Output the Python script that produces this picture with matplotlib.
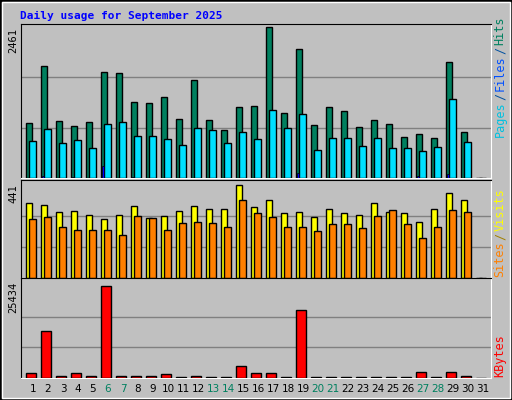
import numpy as np
import matplotlib.pyplot as plt
from matplotlib.patches import Rectangle

days = list(range(1, 32))
hits = [897, 1832, 930, 848, 913, 1734, 1718, 1242, 1225, 1324, 963, 1603, 946, 782, 1160,
        1176, 2461, 1061, 2095, 864, 1160, 1094, 831, 946, 881, 667, 717, 651, 1898, 749, 0]
files = [602, 799, 569, 618, 487, 881, 914, 684, 684, 635, 536, 815, 782, 569, 749,
         635, 1110, 815, 1045, 454, 651, 651, 520, 651, 487, 487, 438, 503, 1291, 585, 0]
pages = [5, 27, 5, 20, 5, 191, 5, 20, 5, 5, 5, 5, 5, 5, 5,
         5, 5, 5, 77, 5, 5, 5, 5, 5, 5, 5, 27, 5, 60, 5, 0]
visits = [355, 345, 312, 317, 297, 278, 297, 340, 283, 292, 317, 340, 326, 326, 441,
          336, 369, 307, 312, 288, 326, 307, 297, 355, 312, 307, 268, 326, 403, 369, 0]
sites = [278, 288, 244, 230, 230, 230, 206, 292, 283, 230, 259, 264, 259, 240, 369,
         307, 288, 244, 240, 225, 254, 254, 235, 292, 321, 254, 192, 240, 321, 312, 0]
kbytes = [1295, 12858, 650, 1295, 650, 25434, 650, 650, 650, 1017, 370, 650, 370, 370, 3423,
          1295, 1295, 370, 18685, 370, 370, 370, 370, 370, 370, 370, 1758, 370, 1572, 650, 0]
weekends = [6, 7, 13, 14, 20, 21, 27, 28]

BG = '#C0C0C0'
W, H = 512, 400
fig = plt.figure(figsize=(5.12, 4.0), dpi=100, facecolor=BG)

# outer bevel
fig.patches.append(Rectangle((0, 0), 1, 1, transform=fig.transFigure, fill=False,
                             edgecolor='black', lw=2))
fig.patches.append(Rectangle((2/W, 2/H), 1-4/W, 1-4/H, transform=fig.transFigure, fill=False,
                             edgecolor='white', lw=1))

fig.text(20/W, 1-16/H, 'Daily usage for September 2025', color='#0000FF', fontsize=8,
         family='DejaVu Sans Mono', weight='bold', va='center')

x = np.array(days)
L, R = 21, 491


def panel(top, bot):
    ax = fig.add_axes([L/W, 1-bot/H, (R-L)/W, (bot-top)/H])
    ax.set_facecolor(BG)
    ax.set_xlim(0.2, 0.2 + (R-L)/15)
    for s in ax.spines.values():
        s.set_color('black')
    ax.spines['right'].set_color('white')
    ax.spines['bottom'].set_color('white')
    ax.set_xticks([])
    ax.set_yticks([])
    return ax


def bars(ax, vals, x0, x1, color):
    ax.bar(x + (x0+x1)/2, vals, width=x1-x0, color=color, edgecolor='black', lw=1, zorder=3)


def side_label(parts, ybot):
    y = ybot
    for txt, col in parts:
        fig.text(500/W, 1-y/H, txt, color=col, rotation=90, fontsize=8.5,
                 family='DejaVu Sans Mono', ha='center', va='bottom')
        y -= len(txt)*7.0 + 2


# top panel
ax1 = panel(24, 178)
ax1.set_ylim(0, 2461*153/150)
for g in [2461/3, 2*2461/3]:
    ax1.axhline(g, color='#808080', lw=1, zorder=1)
bars(ax1, hits, -0.49, -0.05, '#00805F')
bars(ax1, files, -0.25, 0.22, '#00E0FF')
ax1.bar(x - 0.32, pages, width=0.12, color='#0000FF', edgecolor='black', lw=0.5, zorder=4)
fig.text(13/W, 1-28/H, '2461', rotation=90, fontsize=7.5, family='DejaVu Sans Mono',
         ha='center', va='top')
side_label([('Pages', '#00C0E0'), ('/', '#0050A0'), ('Files', '#0050FF'), ('/', '#0050A0'),
            ('Hits', '#00805F')], 137)

# middle panel
ax2 = panel(180, 278)
ax2.set_ylim(0, 441*97/92)
for g in [441/3, 2*441/3]:
    ax2.axhline(g, color='#808080', lw=1, zorder=1)
bars(ax2, visits, -0.49, -0.05, '#FFFF00')
bars(ax2, sites, -0.25, 0.22, '#FF8000')
fig.text(13/W, 1-184/H, '441', rotation=90, fontsize=7.5, family='DejaVu Sans Mono',
         ha='center', va='top')
side_label([('Sites', '#FF8000'), ('/', '#A08000'), ('Visits', '#FFFF00')], 277)

# bottom panel
ax3 = panel(278, 378)
ax3.set_ylim(0, 25434*100/92)
for g in [25434/3, 2*25434/3]:
    ax3.axhline(g, color='#808080', lw=1, zorder=1)
bars(ax3, kbytes, -0.45, 0.22, '#FF0000')
fig.text(13/W, 1-282/H, '25434', rotation=90, fontsize=7.5, family='DejaVu Sans Mono',
         ha='center', va='top')
side_label([('KBytes', '#FF0000')], 377)

for d in days:
    fig.text((L + 12 + (d-1)*15)/W, 1-389/H, str(d), fontsize=7.5, ha='center', va='center',
             color='#00805F' if d in weekends else 'black')

fig.savefig('out.png', dpi=100, facecolor=BG)
